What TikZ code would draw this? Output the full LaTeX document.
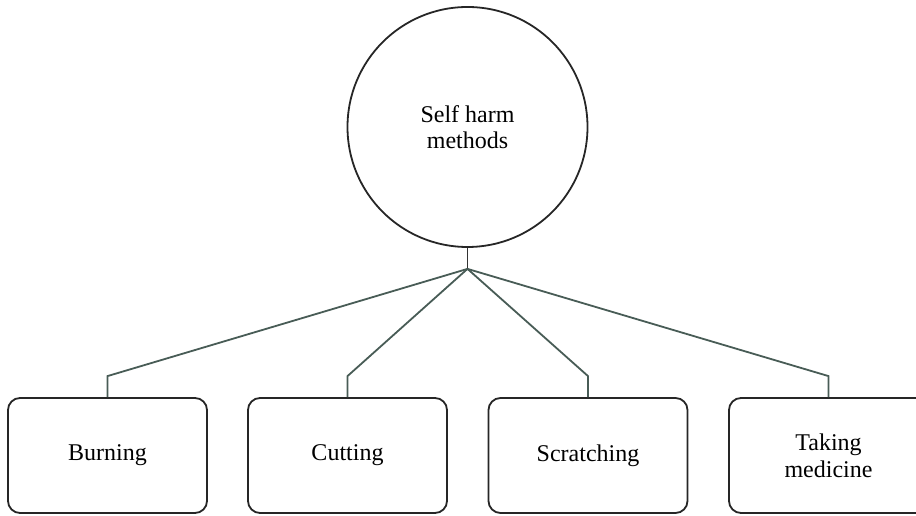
\documentclass[tikz,border=0pt]{standalone}
\usepackage{fontspec}
\setmainfont{Liberation Serif}
\usetikzlibrary{positioning}

\begin{document}
\begin{tikzpicture}[x=1pt, y=1pt, node distance=240pt, on grid]
                \tikzset{
                    root/.style={circle, draw=black!85, line width=1.8pt, minimum size=240pt,
                        align=center, font=\fontsize{24}{26}\selectfont, inner sep=0pt},
                    leaf/.style={rectangle, rounded corners=12pt, draw=black!85, line width=1.8pt,
                        minimum width=199pt, minimum height=115pt, align=center,
                        font=\fontsize{24}{27}\selectfont},
                    link/.style={draw={rgb,255:red,72;green,92;blue,86}, line width=1.8pt}
                }
                \useasboundingbox (0,0) rectangle (916,516);

                \node[root] (root) at (467.5,389) {Self harm\\methods};

                \node[leaf] (cutting) [below left=328.5pt and 120pt of root] {Cutting};
                \node[leaf] (burning) [left=of cutting] {Burning};
                \node[leaf] (scratching) [right=240.5pt of cutting] {Scratching};
                \node[leaf] (medicine) [right=240.5pt of scratching] {Taking\\medicine};

                \coordinate[below=21pt of root.south] (split);
                \draw[link, draw=black!80] (root.south) -- (split);

                \foreach \leafname in {burning, cutting, scratching, medicine}
                    \draw[link] (split) -- ([yshift=21pt]\leafname.north) -- (\leafname.north);

            \end{tikzpicture}
\end{document}
